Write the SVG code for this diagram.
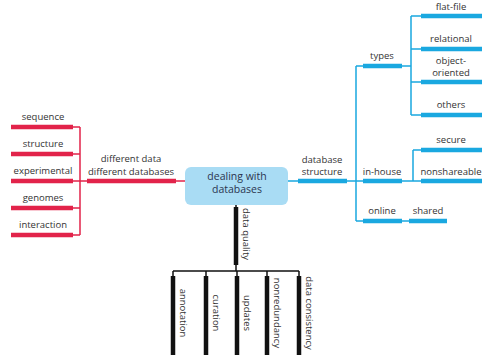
<svg xmlns="http://www.w3.org/2000/svg" width="488" height="355" viewBox="0 0 488 355">
<style>
text{font-family:"Open Sans","Noto Sans",sans-serif;font-size:9.5px;fill:#333;text-anchor:middle}
.t{fill:none;stroke-width:1.5}
.b{fill:none;stroke-width:4.5}
.r{stroke:#e2234a}
.u{stroke:#1aa8e0}
.k{stroke:#111}
.c{font-size:10.5px;fill:#2b3550}
</style>
<rect width="488" height="355" fill="#fff"/>
<g id="connectors">
<path class="t r" d="M73 127H80M73 154H80M73 181H87M73 208H80M73 235H80M80 127V235M176 181H185"/>
<path class="b r" d="M11 127H73M11 154H73M11 181H73M11 208H73M11 235H73M87 181H176"/>
<path class="t u" d="M288 181H298M347 181H363M356 66V221M356 66H363M402 66H411M411 16V115M411 16H421M411 49H421M411 82H421M411 115H421M402 181H421M413 150V181M413 150H421M356 221H363M402 221H409"/>
<path class="b u" d="M298 181H347M363 66H402M421 16H482M421 49H482M421 82H482M421 115H482M363 181H402M421 150H482M421 181H482M363 221H402M409 221H447"/>
<path class="t k" d="M236 205V207M236 265V271M173 271H299M173 271V276M206 271V276M237 271V276M267 271V276M299 271V276"/>
<path class="b k" d="M236 207V265M173 276V360M206 276V360M237 276V360M267 276V360M299 276V360"/>
</g>
<g id="center"><rect x="185" y="167" width="103" height="38" rx="6" fill="#a9dcf4"/><text class="c" x="237" y="180">dealing with</text><text class="c" x="237" y="193">databases</text></g>
<g id="diff"><text x="131" y="162">different data</text><text x="131" y="174.5">different databases</text></g>
<g id="sequence"><text x="43" y="120">sequence</text></g>
<g id="structure"><text x="43" y="147">structure</text></g>
<g id="experimental"><text x="43" y="174">experimental</text></g>
<g id="genomes"><text x="43" y="201">genomes</text></g>
<g id="interaction"><text x="43" y="228">interaction</text></g>
<g id="dbstructure"><text x="322" y="163">database</text><text x="322" y="175">structure</text></g>
<g id="types"><text x="382" y="59">types</text></g>
<g id="flatfile"><text x="451" y="10">flat-file</text></g>
<g id="relational"><text x="451" y="42">relational</text></g>
<g id="objectoriented"><text x="451" y="64">object-</text><text x="451" y="75.5">oriented</text></g>
<g id="others"><text x="451" y="108">others</text></g>
<g id="inhouse"><text x="382" y="174.5">in-house</text></g>
<g id="secure"><text x="451" y="142.5">secure</text></g>
<g id="nonshareable"><text x="451" y="174.5">nonshareable</text></g>
<g id="online"><text x="382" y="214">online</text></g>
<g id="shared"><text x="428" y="214">shared</text></g>
<g id="dataquality"><text transform="translate(243 234) rotate(90)">data quality</text></g>
<g id="annotation"><text transform="translate(180 313) rotate(90)">annotation</text></g>
<g id="curation"><text transform="translate(213 313) rotate(90)">curation</text></g>
<g id="updates"><text transform="translate(244 313) rotate(90)">updates</text></g>
<g id="nonredundancy"><text transform="translate(274 313) rotate(90)">nonredundancy</text></g>
<g id="dataconsistency"><text transform="translate(306 313) rotate(90)">data consistency</text></g>
</svg>
